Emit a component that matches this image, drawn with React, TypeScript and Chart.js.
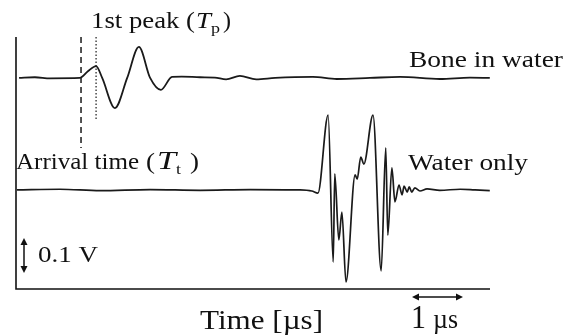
import { useEffect, useRef } from "react";
import { Chart, registerables } from "chart.js";

Chart.register(...registerables);

// Time axis in microseconds, amplitude in volts
const boneTime = [0.06, 0.37, 0.67, 1.25, 1.41, 1.57, 1.69, 1.94, 2.18, 2.41, 2.63, 2.84, 3.06, 3.25, 3.61, 3.9, 4.12, 4.39, 4.71, 5.08, 5.82, 6.29, 6.94, 7.53, 8.31, 8.9, 9.29];
const boneAmp = [0, 0.002, -0.001, 0, 0.019, 0.034, 0, -0.086, 0, 0.089, 0, -0.034, 0.003, 0.004, 0.002, 0.001, -0.004, 0.006, -0.004, 0, 0.003, -0.003, 0, 0.003, -0.003, 0.001, 0];

const waterTime = [0.02, 0.86, 1.65, 2.63, 3.61, 4.59, 5.57, 5.8, 5.92, 6.12, 6.22, 6.25, 6.33, 6.39, 6.47, 6.65, 6.69, 6.76, 6.82, 7.0, 7.16, 7.25, 7.29, 7.37, 7.43, 7.51, 7.57, 7.61, 7.67, 7.71, 7.76, 7.82, 7.92, 8.06, 8.31, 8.71, 9.0, 9.29];
const waterAmp = [0, 0.002, -0.002, 0.001, -0.001, 0.001, 0, -0.003, -0.009, 0.214, -0.206, 0.046, -0.143, -0.063, -0.263, 0.043, 0.031, 0.094, 0.074, 0.214, -0.231, 0.12, -0.129, 0.063, -0.034, 0.014, -0.014, 0.011, -0.006, 0.009, -0.006, 0.006, -0.003, 0.003, -0.001, 0.002, 0, -0.002];

const boneOffset = 0.32;
const waterOffset = 0;

const arrivalTime = 1.275; // T_t marker
const peakTime = 1.57; // T_p marker
const arrivalLineBottom = 0.12;
const peakLineBottom = 0.197;

const xMin = 0;
const xMax = 9.294;
const yMin = -0.283;
const yMax = 0.437;

const voltBar = 0.1; // 0.1 V scale bar
const voltBarBottom = -0.237;
const timeBar = 1; // 1 µs scale bar
const timeBarStart = 7.765;

const labels = {
  peak: "1st peak (",
  arrival: "Arrival time",
  bone: "Bone in water",
  water: "Water only",
  volt: "0.1 V",
  xTitle: "Time [µs]",
};

const FONT = '"Liberation Serif", "Times New Roman", Times, serif';
const INK = "#111";

function txt(ctx: CanvasRenderingContext2D, s: string, x: number, y: number, size: number, italic = false, width?: number) {
  ctx.save();
  ctx.font = `${italic ? "italic " : ""}${size}px ${FONT}`;
  ctx.textAlign = "left";
  ctx.textBaseline = "alphabetic";
  ctx.fillStyle = INK;
  const w = ctx.measureText(s).width;
  const sx = width ? width / w : 1;
  ctx.translate(x, y);
  ctx.scale(sx, 1);
  ctx.fillText(s, 0, 0);
  ctx.restore();
  return w * sx;
}

function arrow(ctx: CanvasRenderingContext2D, x1: number, y1: number, x2: number, y2: number) {
  const ang = Math.atan2(y2 - y1, x2 - x1);
  const hl = 7, hw = 3.5;
  ctx.save();
  ctx.strokeStyle = INK;
  ctx.fillStyle = INK;
  ctx.lineWidth = 1.5;
  ctx.beginPath();
  ctx.moveTo(x1 + Math.cos(ang) * 3, y1 + Math.sin(ang) * 3);
  ctx.lineTo(x2 - Math.cos(ang) * 3, y2 - Math.sin(ang) * 3);
  ctx.stroke();
  const head = (px: number, py: number, a: number) => {
    ctx.beginPath();
    ctx.moveTo(px, py);
    ctx.lineTo(px - Math.cos(a) * hl - Math.sin(a) * hw, py - Math.sin(a) * hl + Math.cos(a) * hw);
    ctx.lineTo(px - Math.cos(a) * hl + Math.sin(a) * hw, py - Math.sin(a) * hl - Math.cos(a) * hw);
    ctx.closePath();
    ctx.fill();
  };
  head(x2, y2, ang);
  head(x1, y1, ang + Math.PI);
  ctx.restore();
}

const decor = {
  id: "decor",
  beforeDatasetsDraw(chart: any) {
    const { ctx, chartArea } = chart;
    ctx.save();
    ctx.strokeStyle = INK;
    ctx.lineWidth = 1.6;
    ctx.beginPath();
    ctx.moveTo(chartArea.left, chartArea.top);
    ctx.lineTo(chartArea.left, chartArea.bottom);
    ctx.lineTo(chartArea.right, chartArea.bottom);
    ctx.stroke();
    ctx.restore();
  },
  afterDraw(chart: any) {
    const { ctx, chartArea } = chart;
    const xs = chart.scales.x;
    const ys = chart.scales.y;

    // 1st peak (T_p)
    let x = 91;
    x += txt(ctx, labels.peak, x, 28, 24, false, 104);
    x += txt(ctx, "T", x + 1, 28, 24, true, 15) + 1;
    x += txt(ctx, "p", x, 33, 15, false, 9);
    txt(ctx, ")", x + 3, 28, 24, false, 8);

    // Arrival time (T_t)
    txt(ctx, labels.arrival, 16, 169, 24, false, 123);
    txt(ctx, "(", 146, 169, 24, false, 9);
    txt(ctx, "T", 157, 169, 25, true, 19);
    txt(ctx, "t", 176, 174, 15, false, 5);
    txt(ctx, ")", 190, 169, 24, false, 9);

    txt(ctx, labels.bone, 409, 67, 24, false, 154);
    txt(ctx, labels.water, 408, 170, 24, false, 120);
    txt(ctx, labels.volt, 38, 262, 24, false, 60);
    txt(ctx, labels.xTitle, 200, 329, 27, false, 123);

    // 0.1 V scale bar
    const vx = chartArea.left + 8;
    arrow(ctx, vx, ys.getPixelForValue(voltBarBottom + voltBar), vx, ys.getPixelForValue(voltBarBottom));

    // 1 µs scale bar
    const ty = chartArea.bottom + 8;
    const tx1 = xs.getPixelForValue(timeBarStart);
    const tx2 = xs.getPixelForValue(timeBarStart + timeBar);
    arrow(ctx, tx1, ty, tx2, ty);
    txt(ctx, "1", 411, 328, 34, false, 15);
    txt(ctx, "µs", 433, 328, 28, false, 25);
  },
};

export default function App() {
  const ref = useRef<HTMLCanvasElement>(null);
  useEffect(() => {
    const canvas = ref.current;
    if (!canvas) return;
    let chart: Chart | null = null;
    let cancelled = false;
    const lineColor = "#1a1a1a";
    const build = () => {
      if (cancelled) return;
      chart = new Chart(canvas, {
        type: "line",
        data: {
          datasets: [
            {
              data: boneTime.map((t, i) => ({ x: t, y: boneAmp[i] + boneOffset })),
              borderColor: lineColor,
              borderWidth: 1.8,
              pointRadius: 0,
              cubicInterpolationMode: "monotone",
            },
            {
              data: waterTime.map((t, i) => ({ x: t, y: waterAmp[i] + waterOffset })),
              borderColor: lineColor,
              borderWidth: 1.7,
              pointRadius: 0,
              cubicInterpolationMode: "monotone",
            },
            {
              data: [
                { x: arrivalTime, y: yMax },
                { x: arrivalTime, y: arrivalLineBottom },
              ],
              borderColor: lineColor,
              borderWidth: 1.5,
              borderDash: [6, 4],
              pointRadius: 0,
            },
            {
              data: [
                { x: peakTime, y: yMax },
                { x: peakTime, y: peakLineBottom },
              ],
              borderColor: lineColor,
              borderWidth: 1.2,
              borderDash: [1.5, 2],
              pointRadius: 0,
            },
          ],
        },
        options: {
          responsive: false,
          animation: false,
          events: [],
          layout: { padding: { left: 16, right: 88, top: 37, bottom: 47 } },
          plugins: { legend: { display: false }, tooltip: { enabled: false } },
          scales: {
            x: { type: "linear", display: false, min: xMin, max: xMax },
            y: { type: "linear", display: false, min: yMin, max: yMax },
          },
        },
        plugins: [decor],
      } as any);
    };
    const fonts = (document as any).fonts;
    if (fonts && fonts.load) {
      Promise.all([
        fonts.load('24px "Liberation Serif"'),
        fonts.load('italic 24px "Liberation Serif"'),
      ])
        .catch(() => undefined)
        .then(build);
    } else {
      build();
    }
    return () => {
      cancelled = true;
      if (chart) chart.destroy();
    };
  }, []);
  return (
    <div style={{ position: "fixed", left: 0, top: 0, width: 578, height: 336, background: "#fff" }}>
      <canvas ref={ref} width={578} height={336} style={{ display: "block" }} />
    </div>
  );
}
